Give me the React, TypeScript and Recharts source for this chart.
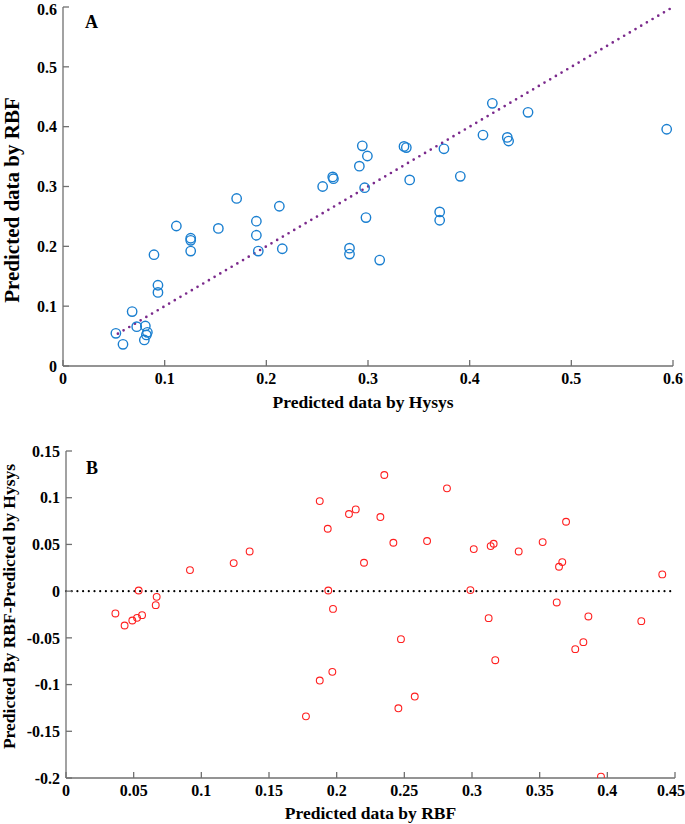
import {
  ScatterChart,
  Scatter,
  XAxis,
  YAxis,
  ReferenceLine,
  Label,
} from "recharts";

// panel A: Hysys prediction (x) vs RBF prediction (y)
const hysysA = [
  0.052, 0.059, 0.068, 0.0725, 0.081, 0.083, 0.08, 0.082, 0.0895, 0.0934, 0.0934,
  0.1115, 0.1256, 0.1256, 0.1256, 0.1528, 0.1708, 0.1902, 0.1902, 0.1921, 0.2128,
  0.2157, 0.2554, 0.2653, 0.266, 0.2818, 0.2818, 0.2944, 0.2915, 0.2994, 0.2967,
  0.298, 0.3115, 0.3354, 0.3377, 0.341, 0.3747, 0.3705, 0.3705, 0.3908, 0.4131,
  0.4223, 0.437, 0.4383, 0.4574, 0.5938,
];
const rbfA = [
  0.0546, 0.0362, 0.0909, 0.0658, 0.0669, 0.0563, 0.0435, 0.052, 0.186, 0.135, 0.123,
  0.234, 0.2135, 0.21, 0.192, 0.23, 0.28, 0.242, 0.2185, 0.192, 0.267,
  0.196, 0.3, 0.316, 0.313, 0.197, 0.187, 0.368, 0.334, 0.351, 0.298,
  0.248, 0.177, 0.367, 0.365, 0.311, 0.363, 0.2575, 0.2436, 0.317, 0.386,
  0.439, 0.382, 0.376, 0.424, 0.3957,
];
const fitA = [0.054, 0.6];
const ticksA = [0, 0.1, 0.2, 0.3, 0.4, 0.5, 0.6];

// panel B: RBF prediction (x) vs residual (RBF - Hysys)
const rbfB = [
  0.0365, 0.0433, 0.049, 0.0525, 0.0562, 0.0537, 0.067, 0.0663, 0.0916, 0.1239,
  0.1357, 0.1773, 0.1875, 0.1875, 0.1934, 0.1938, 0.1973, 0.1968, 0.2091, 0.2141,
  0.2202, 0.2323, 0.2352, 0.2419, 0.2475, 0.2456, 0.2577, 0.2668, 0.2815, 0.2988,
  0.3013, 0.3123, 0.3138, 0.316, 0.3172, 0.3345, 0.3522, 0.3626, 0.3643, 0.3667,
  0.3695, 0.3763, 0.3823, 0.386, 0.3953, 0.4251, 0.4406,
];
const diffB = [
  -0.0239, -0.0368, -0.0314, -0.0286, -0.0257, 0.0007, -0.0061, -0.015, 0.0225, 0.03,
  0.0425, -0.134, 0.0964, -0.0957, 0.0668, 0.0007, -0.019, -0.0864, 0.0825, 0.0875,
  0.0304, 0.0793, 0.1243, 0.0518, -0.0514, -0.1254, -0.1128, 0.0536, 0.11, 0.0011,
  0.045, -0.0289, 0.0482, 0.0507, -0.0739, 0.0425, 0.0525, -0.0121, 0.0261, 0.0311,
  0.0743, -0.0621, -0.0546, -0.0271, -0.1986, -0.0321, 0.0179,
];
const xTicksB = [0, 0.05, 0.1, 0.15, 0.2, 0.25, 0.3, 0.35, 0.4, 0.45];
const yTicksB = [-0.2, -0.15, -0.1, -0.05, 0, 0.05, 0.1, 0.15];

const FONT = '"Liberation Serif", "DejaVu Serif", serif';
const AXIS = "#707070";
const tickStyle = { fill: "#000", fontSize: 16, fontWeight: "bold", fontFamily: FONT };
const titleStyle = { fill: "#000", fontSize: 17.5, fontWeight: "bold", fontFamily: FONT };

const dataA = hysysA.map((x, i) => ({ x, y: rbfA[i] }));
const dataB = rbfB.map((x, i) => ({ x, y: diffB[i] }));

const blueCircle = (p: any) => (
  <circle cx={p.cx} cy={p.cy} r={4.7} fill="none" stroke="#1a7fd0" strokeWidth={1.4} />
);
const redCircle = (p: any) => (
  <circle cx={p.cx} cy={p.cy} r={3.4} fill="none" stroke="#ff1f1f" strokeWidth={1.1} />
);

function VTitle({ x, y, text, size }: { x: number; y: number; text: string; size: number }) {
  return (
    <text
      x={x}
      y={y}
      textAnchor="middle"
      transform={`rotate(-90 ${x} ${y})`}
      fill="#000"
      fontSize={size}
      fontWeight="bold"
      style={{ fontFamily: FONT }}
    >
      {text}
    </text>
  );
}

const panelLetter = {
  position: "absolute" as const,
  fontFamily: FONT,
  fontWeight: "bold" as const,
  fontSize: 18,
  lineHeight: "18px",
};

export default function App() {
  return (
    <div
      style={{
        position: "absolute",
        left: 0,
        top: 0,
        width: 685,
        height: 824,
        background: "#fff",
        fontFamily: FONT,
      }}
    >
      {/* A */}
      <div style={{ position: "absolute", left: 0, top: 0 }}>
        <ScatterChart
          width={685}
          height={416}
          margin={{ top: 7, right: 12, bottom: 0, left: 0 }}
          style={{ fontFamily: FONT }}
        >
          <XAxis
            type="number"
            dataKey="x"
            domain={[0, 0.6]}
            ticks={ticksA}
            height={50}
            tickSize={-6}
            tickMargin={13}
            axisLine={{ stroke: AXIS, strokeWidth: 1.3 }}
            tickLine={{ stroke: AXIS, strokeWidth: 1.3 }}
            tick={tickStyle}
            allowDataOverflow
          >
            <Label value="Predicted data by Hysys" position="insideBottom" offset={8} dx={-5} style={titleStyle} />
          </XAxis>
          <YAxis
            type="number"
            dataKey="y"
            domain={[0, 0.6]}
            ticks={ticksA}
            width={63}
            tickSize={-6}
            tickMargin={12}
            axisLine={{ stroke: AXIS, strokeWidth: 1.3 }}
            tickLine={{ stroke: AXIS, strokeWidth: 1.3 }}
            tick={tickStyle}
            allowDataOverflow
          >
            <Label content={() => <VTitle x={19} y={200} size={21} text="Predicted data by RBF" />} />
          </YAxis>
          <ReferenceLine
            segment={[
              { x: fitA[0], y: fitA[0] },
              { x: fitA[1], y: fitA[1] },
            ]}
            stroke="#7b2a8c"
            strokeWidth={2.7}
            strokeDasharray="0 6.6"
            strokeLinecap="round"
          />
          <Scatter data={dataA} shape={blueCircle} isAnimationActive={false} />
        </ScatterChart>
        <div style={{ ...panelLetter, left: 85, top: 13 }}>A</div>
      </div>

      {/* B */}
      <div style={{ position: "absolute", left: 0, top: 416 }}>
        <ScatterChart
          width={685}
          height={408}
          margin={{ top: 35, right: 10, bottom: 0, left: 0 }}
          style={{ fontFamily: FONT }}
        >
          <XAxis
            type="number"
            dataKey="x"
            domain={[0, 0.45]}
            ticks={xTicksB}
            height={46}
            tickSize={-6}
            tickMargin={13}
            axisLine={{ stroke: AXIS, strokeWidth: 1.3 }}
            tickLine={{ stroke: AXIS, strokeWidth: 1.3 }}
            tick={tickStyle}
            allowDataOverflow
          >
            <Label value="Predicted data by RBF" position="insideBottom" offset={5} style={titleStyle} />
          </XAxis>
          <YAxis
            type="number"
            dataKey="y"
            domain={[-0.2, 0.15]}
            ticks={yTicksB}
            width={66}
            tickSize={-6}
            tickMargin={12}
            axisLine={{ stroke: AXIS, strokeWidth: 1.3 }}
            tickLine={{ stroke: AXIS, strokeWidth: 1.3 }}
            tick={tickStyle}
            allowDataOverflow
          >
            <Label
              content={() => <VTitle x={15} y={190.5} size={17.5} text="Predicted By RBF-Predicted by Hysys" />}
            />
          </YAxis>
          <ReferenceLine
            y={0}
            stroke="#000"
            strokeWidth={2.2}
            strokeDasharray="0 5.7"
            strokeLinecap="round"
          />
          <Scatter data={dataB} shape={redCircle} isAnimationActive={false} />
        </ScatterChart>
        <div style={{ ...panelLetter, left: 86, top: 43 }}>B</div>
      </div>
    </div>
  );
}
